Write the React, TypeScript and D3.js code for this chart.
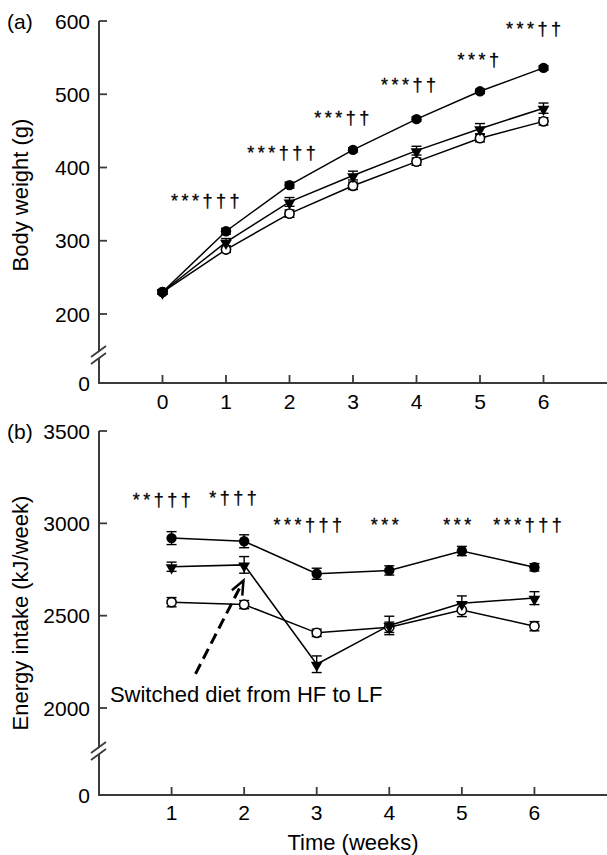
import React from "react";
import * as d3 from "d3";

// (a) body weight, g
const weeksA = [0, 1, 2, 3, 4, 5, 6];
const weightHF = [230, 313, 376, 424, 466, 504, 536];
const weightHFErr = [3, 4, 4, 3, 3, 3, 3];
const weightSwitch = [230, 298, 353, 389, 423, 453, 481];
const weightSwitchErr = [3, 5, 6, 6, 6, 7, 7];
const weightLF = [230, 288, 337, 375, 408, 440, 463];
const weightLFErr = [3, 4, 5, 5, 5, 5, 5];
const sigA = ["***†††", "***†††", "***††", "***††", "***†", "***††"];
const sigAWeek = [0.7, 1.9, 2.85, 3.9, 5.0, 5.87];
const sigALevel = [346, 411, 460, 505, 539, 581];
const ticksA = [200, 300, 400, 500, 600];

// (b) energy intake, kJ/week
const weeksB = [1, 2, 3, 4, 5, 6];
const intakeHF = [2920, 2903, 2727, 2745, 2850, 2762];
const intakeHFErr = [35, 35, 30, 25, 25, 20];
const intakeSwitch = [2765, 2775, 2237, 2447, 2567, 2595];
const intakeSwitchErr = [25, 45, 45, 50, 40, 35];
const intakeLF = [2573, 2560, 2407, 2437, 2530, 2443];
const intakeLFErr = [25, 22, 20, 28, 35, 25];
const sigB = ["**†††", "*†††", "***†††", "***", "***", "***†††"];
const sigBWeek = [0.89, 1.87, 2.9, 3.96, 4.96, 5.93];
const sigBLevel = [3095, 3105, 2960, 2960, 2960, 2960];
const ticksB = [2000, 2500, 3000, 3500];

const FONT = "'Liberation Sans', Arial, Helvetica, sans-serif";
const AXIS = "#3a3a3a";

type Series = { values: number[]; errors: number[]; marker: string };

function Marker({ kind, x, y }) {
  if (kind === "tri") {
    const p = d3.symbol(d3.symbolTriangle, 60)();
    return <path d={p} transform={`translate(${x},${y + 1}) rotate(180)`} fill="#000" />;
  }
  if (kind === "open") {
    return <circle cx={x} cy={y} r={4.6} fill="#fff" stroke="#000" strokeWidth={1.6} />;
  }
  return <circle cx={x} cy={y} r={5.2} fill="#000" />;
}

function Panel({ weeks, series, xScale, yScale, xTicks, yTicks, yTop, breakY, tag, title, titleY, sig, sigWeek, sigLevel, labelY }) {
  const x0 = xScale.range()[0];
  const xEnd = xScale.range()[1];
  const y0 = yScale(0);
  const line = d3
    .line<number>()
    .x((d, i) => xScale(weeks[i]))
    .y((d) => yScale(d));
  return (
    <g fontFamily={FONT} fill="#000">
      {/* axes */}
      <line x1={x0} x2={x0} y1={yScale(yTop)} y2={y0} stroke={AXIS} strokeWidth={2} />
      <line x1={x0 - 1} x2={xEnd} y1={y0} y2={y0} stroke={AXIS} strokeWidth={2} />
      <polygon
        points={`${x0 - 8},${breakY + 2} ${x0 + 8},${breakY - 10} ${x0 + 8},${breakY - 4} ${x0 - 8},${breakY + 8}`}
        fill="#fff"
      />
      <line x1={x0 - 8} x2={x0 + 7} y1={breakY + 1} y2={breakY - 10} stroke={AXIS} strokeWidth={1.8} />
      <line x1={x0 - 8} x2={x0 + 7} y1={breakY + 8} y2={breakY - 3} stroke={AXIS} strokeWidth={1.8} />
      {yTicks.map((t) => (
        <g key={t}>
          <line x1={x0} x2={x0 + 8} y1={yScale(t)} y2={yScale(t)} stroke={AXIS} strokeWidth={1.8} />
          <text x={x0 - 9} y={yScale(t)} dy="0.36em" textAnchor="end" fontSize={21}>{t}</text>
        </g>
      ))}
      <text x={x0 - 9} y={y0} dy="0.36em" textAnchor="end" fontSize={21}>0</text>
      {xTicks.map((t) => (
        <g key={t}>
          <line x1={xScale(t)} x2={xScale(t)} y1={y0} y2={y0 - 8} stroke={AXIS} strokeWidth={1.8} />
          <text x={xScale(t)} y={labelY} textAnchor="middle" fontSize={21}>{t}</text>
        </g>
      ))}
      <text x={7} y={yScale(yTop)} dy="0.36em" fontSize={21}>{tag}</text>
      <text
        transform={`translate(28,${titleY}) rotate(-90)`}
        textAnchor="middle"
        fontSize={22}
      >
        {title}
      </text>
      {/* data */}
      {series.map((s, k) => (
        <path key={k} d={line(s.values)} fill="none" stroke="#000" strokeWidth={1.5} />
      ))}
      {series.map((s, k) =>
        s.values.map((v, i) => {
          const cx = xScale(weeks[i]);
          const top = yScale(v + s.errors[i]);
          const bot = yScale(v - s.errors[i]);
          return (
            <g key={`e${k}-${i}`} stroke="#000" strokeWidth={1.4}>
              <line x1={cx} x2={cx} y1={top} y2={bot} />
              <line x1={cx - 5} x2={cx + 5} y1={top} y2={top} />
              <line x1={cx - 5} x2={cx + 5} y1={bot} y2={bot} />
            </g>
          );
        })
      )}
      {series.map((s, k) =>
        s.values.map((v, i) => (
          <Marker key={`m${k}-${i}`} kind={s.marker} x={xScale(weeks[i])} y={yScale(v)} />
        ))
      )}
      {sig.map((txt, i) => (
        <text
          key={`s${i}`}
          x={xScale(sigWeek[i])}
          y={yScale(sigLevel[i])}
          textAnchor="middle"
          fontSize={18}
          letterSpacing={3.5}
          fill="#000"
          stroke="#000"
          strokeWidth={0.3}
        >
          {txt}
        </text>
      ))}
    </g>
  );
}

export default function App() {
  const width = 607;
  const height = 855;

  const xA = d3.scaleLinear().domain([-1, 7]).range([99, 607]);
  const yA = d3.scaleLinear().domain([0, 200, 600]).range([383, 314, 21]);
  const xB = d3.scaleLinear().domain([0, 7]).range([99, 607]);
  const yB = d3.scaleLinear().domain([0, 2000, 3500]).range([795, 708, 431]);

  const seriesA: Series[] = [
    { values: weightLF, errors: weightLFErr, marker: "open" },
    { values: weightSwitch, errors: weightSwitchErr, marker: "tri" },
    { values: weightHF, errors: weightHFErr, marker: "filled" },
  ];
  const seriesB: Series[] = [
    { values: intakeLF, errors: intakeLFErr, marker: "open" },
    { values: intakeSwitch, errors: intakeSwitchErr, marker: "tri" },
    { values: intakeHF, errors: intakeHFErr, marker: "filled" },
  ];

  // dashed arrow pointing at the diet switch (week 2)
  const tail = [xB(1.33), yB(2185)];
  const tip = [xB(1.99), yB(2690)];
  const ang = Math.atan2(tip[1] - tail[1], tip[0] - tail[0]);
  const head = (da) => [tip[0] - 15 * Math.cos(ang + da), tip[1] - 15 * Math.sin(ang + da)];
  const h1 = head(0.4);
  const h2 = head(-0.4);

  return (
    <svg width={width} height={height} style={{ position: "absolute", left: 0, top: 0 }}>
      <rect width={width} height={height} fill="#fff" />
      <Panel
        weeks={weeksA}
        series={seriesA}
        xScale={xA}
        yScale={yA}
        xTicks={weeksA}
        yTicks={ticksA}
        yTop={600}
        breakY={356}
        tag="(a)"
        title="Body weight (g)"
        titleY={195}
        sig={sigA}
        sigWeek={sigAWeek}
        sigLevel={sigALevel}
        labelY={409}
      />
      <Panel
        weeks={weeksB}
        series={seriesB}
        xScale={xB}
        yScale={yB}
        xTicks={weeksB}
        yTicks={ticksB}
        yTop={3500}
        breakY={752}
        tag="(b)"
        title="Energy intake (kJ/week)"
        titleY={613}
        sig={sigB}
        sigWeek={sigBWeek}
        sigLevel={sigBLevel}
        labelY={820}
      />
      <g stroke="#000" strokeWidth={3} fill="none">
        <line x1={tail[0]} y1={tail[1]} x2={tip[0]} y2={tip[1]} strokeDasharray="11 6" />
        <polyline points={`${h1[0]},${h1[1]} ${tip[0]},${tip[1]} ${h2[0]},${h2[1]}`} strokeWidth={2.5} />
      </g>
      <text x={xB(0.15)} y={yB(2030)} fontFamily={FONT} fontSize={22}>
        Switched diet from HF to LF
      </text>
      <text x={xB(3.5)} y={850} textAnchor="middle" fontFamily={FONT} fontSize={22}>
        Time (weeks)
      </text>
    </svg>
  );
}
